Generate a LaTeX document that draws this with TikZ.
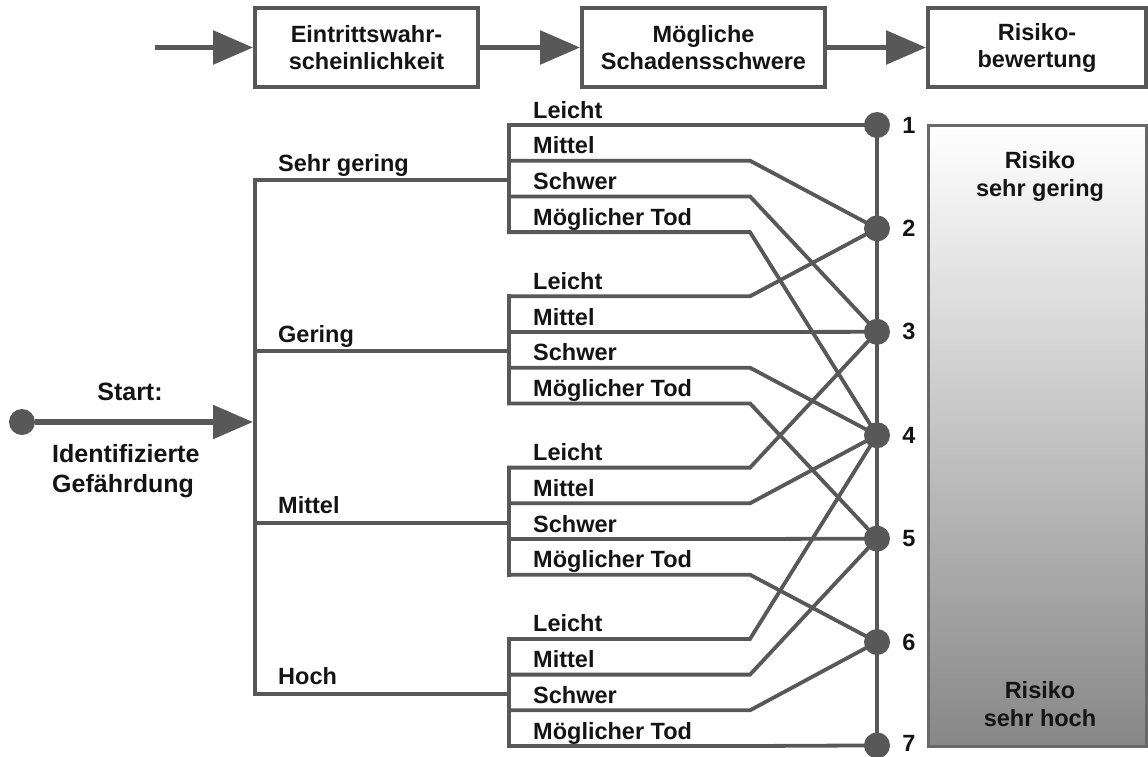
\documentclass[tikz,border=0pt]{standalone}
\usepackage{fontspec}
\setmainfont{Liberation Sans}
\usetikzlibrary{arrows.meta}

\definecolor{wirecol}{HTML}{585858}
\definecolor{inkcol}{HTML}{141414}
\definecolor{framecol}{HTML}{686868}

\begin{document}
\begin{tikzpicture}[x=1pt,y=-1pt,
  lbl/.style={font=\fontsize{23.5}{28}\selectfont\bfseries, text=inkcol, inner sep=0pt},
  wire/.style={draw=wirecol, line width=3.8pt, line cap=rect},
  headbox/.style={draw=wirecol, line width=3.8pt, minimum height=79pt, inner sep=0pt,
                  align=center, font=\fontsize{23.5}{27}\selectfont\bfseries, text=inkcol},
  flow/.style={draw=wirecol, line width=5.5pt, -{Triangle[length=40pt,width=33pt]}},
  dot/.style={circle, fill=wirecol, minimum size=26pt, inner sep=0pt},
  numlbl/.style={lbl, anchor=center},
]
\useasboundingbox (0,0) rectangle (1148,756);

% process chain at the top
\node[headbox, minimum width=223pt] (prob) at (366.5,47.5) {Eintrittswahr-\\scheinlichkeit};
\node[headbox, minimum width=243pt] (sev)  at (703.5,47.5) {Mögliche\\Schadensschwere};
\node[headbox, minimum width=218pt] (eval) at (1037,47.5) {Risiko-\\bewertung};
\coordinate (chainin) at (155,47.5);
\draw[flow] (chainin) -- (prob);
\draw[flow] (prob) -- (sev);
\draw[flow] (sev) -- (eval);

% risk scale
\node[draw=framecol, line width=3pt, minimum width=218pt, minimum height=621pt,
      top color=white, bottom color=black!47, inner sep=0pt] (scale) at (1037,436) {};
\node[lbl, align=center, anchor=north] (low)  at (1040,151) {Risiko\\sehr gering};
\node[lbl, align=center, anchor=north] (high) at (1040,681) {Risiko\\sehr hoch};

% start of the graph
\node[dot] (start) at (22,422) {};
\coordinate (entry) at (253,422);
\draw[flow] (start) -- (entry);
\node[lbl, anchor=base, font=\fontsize{25}{30}\selectfont\bfseries] (startlbl) at (130,400) {Start:};
\node[lbl, align=left, anchor=north west, font=\fontsize{25}{30}\selectfont\bfseries]
  (hazard) at (52,444) {Identifizierte\\Gefährdung};

% risk levels
\foreach \k in {1,...,7}{
  \node[dot] (n\k) at (877,{125+103.4*(\k-1)}) {};
}
\foreach \k in {1,...,6}{
  \node[numlbl] (num\k) at (909,{125+103.4*(\k-1)}) {\k};
}
\node[numlbl] (num7) at (909,743) {7};
\draw[wire] (n1) -- (n7);

% trunk
\coordinate (t0) at (255,180);
\coordinate (t3) at (255,{180+3*171.3});
\draw[wire] (t0) -- (t3);

% probability branches and severity lines
\foreach \g/\gname in {0/Sehr gering,1/Gering,2/Mittel,3/Hoch}{
  \pgfmathsetmacro{\B}{180+171.3*\g}
  \pgfmathsetmacro{\G}{125+171.3*\g}
  \coordinate (tb\g) at (255,\B);
  \coordinate (jb\g) at (509,\B);
  \draw[wire] (tb\g) -- (jb\g);
  \node[lbl, anchor=base west] (grp\g) at (278,\B-9) {\gname};
  \coordinate (top\g) at (509,\G);
  \coordinate (bot\g) at (509,\G+107.1);
  \draw[wire] (top\g) -- (bot\g);
  \foreach \s/\sname in {0/Leicht,1/Mittel,2/Schwer,3/Möglicher Tod}{
    \pgfmathtruncatemacro{\k}{\g+\s+1}
    \pgfmathsetmacro{\L}{\G+35.7*\s}
    \coordinate (p\g-\s) at (509,\L);
    \coordinate (q\g-\s) at (750,\L);
    \draw[wire] (p\g-\s) -- (q\g-\s) -- (n\k);
    \node[lbl, anchor=base west] (sv\g-\s) at (533,\L-7) {\sname};
  }
}
\end{tikzpicture}
\end{document}
